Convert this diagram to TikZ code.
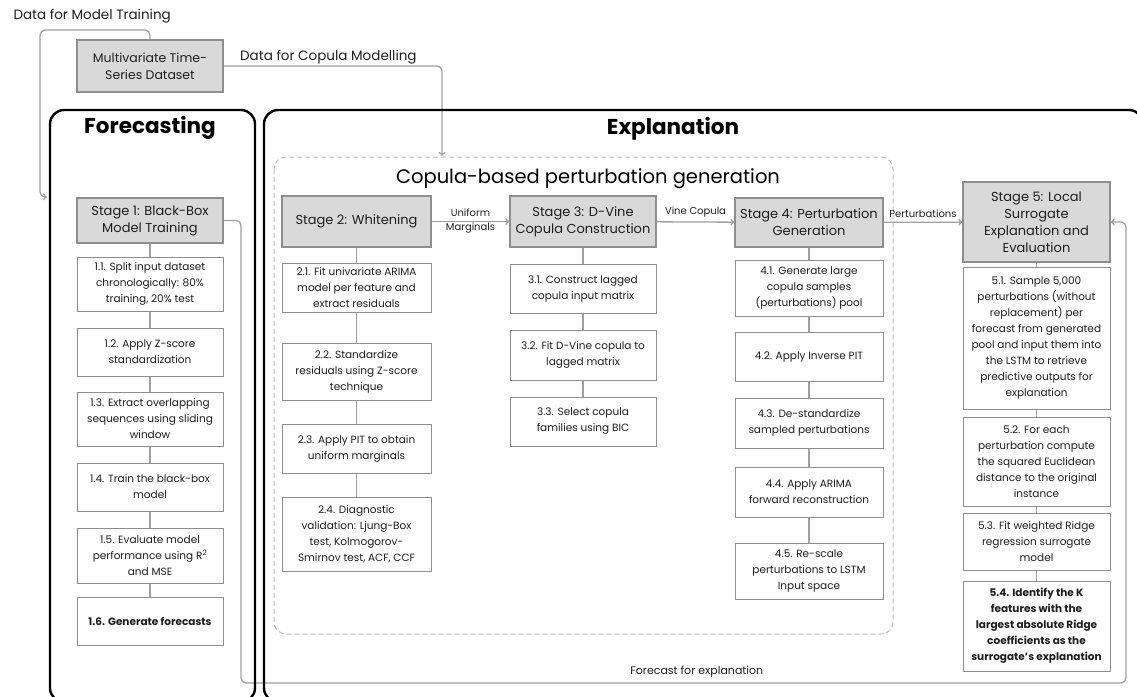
\documentclass[tikz,border=0pt]{standalone}
\usepackage{fontspec}
\setmainfont{Poppins}
\usetikzlibrary{arrows.meta}

\definecolor{stagegray}{HTML}{D9D9D9}
\definecolor{boxgray}{HTML}{8E8E8E}
\definecolor{linegray}{HTML}{A0A0A0}
\definecolor{dashgray}{HTML}{BDBDBD}
\definecolor{textgray}{HTML}{1E1E1E}

\pgfdeclarelayer{back}
\pgfdeclarelayer{mid}
\pgfsetlayers{back,mid,main}

\newcommand*{\bodyfont}{\fontsize{10.5}{16}\selectfont}
\newcommand*{\stagefont}{\fontsize{13}{17}\selectfont}

\begin{document}
\begin{tikzpicture}
[
	x=1pt, y=-1pt,
	stagebox/.style={draw=boxgray,line width=1.2pt,fill=stagegray,align=center,inner sep=1pt,minimum width=146pt,font=\stagefont,text=textgray},
	stepbox/.style={draw=boxgray,line width=1pt,fill=white,align=center,inner sep=1pt,minimum width=146pt,font=\bodyfont,text=textgray},
	boldbox/.style={stepbox,font=\bodyfont\bfseries},
	link/.style={draw=linegray,line width=1.3pt},
	flow/.style={link,-{To[length=4pt,width=7pt]},rounded corners=5pt},
	panel/.style={draw=black,line width=2.4pt,rounded corners=14pt},
	lbl/.style={font=\fontsize{10}{14}\selectfont,text=textgray},
	datalbl/.style={font=\fontsize{13.5}{16}\selectfont,text=textgray}
]

	\clip (0,0) rectangle (1137,696);

	% panels
	\begin{pgfonlayer}{mid}
	\draw[panel] (50,110) rectangle (255,702);
	\draw[panel] (264,110) rectangle (1143,702);
	\draw[draw=dashgray,line width=1pt,dash pattern=on 5pt off 3pt,rounded corners=12pt] (274,157) rectangle (893,634);
	\end{pgfonlayer}
	\node[font=\fontsize{21.5}{24}\selectfont\bfseries] (fctitle) at (150,128) {Forecasting};
	\node[font=\fontsize{21.5}{24}\selectfont\bfseries] (extitle) at (673,129) {Explanation};
	\node[font=\fontsize{19.5}{24}\selectfont] (cptitle) at (588,179) {Copula-based perturbation generation};

	% input data
	\node[stagebox,minimum height=52pt,font=\fontsize{12.5}{17}\selectfont] (data) at (150,66) {Multivariate Time-\\Series Dataset};
	\node[datalbl,anchor=west] (trainlbl) at (10,16) {Data for Model Training};
	\node[datalbl,anchor=south west,inner sep=2pt] (copulalbl) at (238,66) {Data for Copula Modelling};

	% stage 1
	\node[stagebox,minimum height=45pt] (s1) at (150,220.5) {Stage 1: Black-Box\\Model Training};
	\node[stepbox,minimum height=54pt] (s11) at (150,284) {1.1. Split input dataset\\chronologically: 80\%\\training, 20\% test};
	\node[stepbox,minimum height=48pt] (s12) at (150,352) {1.2. Apply Z-score\\standardization};
	\node[stepbox,minimum height=54pt] (s13) at (150,419) {1.3. Extract overlapping\\sequences using sliding\\window};
	\node[stepbox,minimum height=48pt] (s14) at (150,487) {1.4. Train the black-box\\model};
	\node[stepbox,minimum height=55pt] (s15) at (150,555.5) {1.5. Evaluate model\\performance using R\textsuperscript{2}\\and MSE};
	\node[boldbox,minimum height=48pt] (s16) at (150,621) {1.6. Generate forecasts};

	% stage 2
	\node[stagebox,minimum width=149pt,minimum height=51pt] (s2) at (356.5,221.5) {Stage 2: Whitening};
	\node[stepbox,minimum width=149pt,minimum height=49pt] (s21) at (356.5,287.5) {2.1. Fit univariate ARIMA\\model per feature and\\extract residuals};
	\node[stepbox,minimum width=149pt,minimum height=57pt] (s22) at (356.5,371.5) {2.2. Standardize\\residuals using Z-score\\technique};
	\node[stepbox,minimum width=149pt,minimum height=49pt] (s23) at (356.5,448.5) {2.3. Apply PIT to obtain\\uniform marginals};
	\node[stepbox,minimum width=149pt,minimum height=74pt] (s24) at (356.5,534) {2.4. Diagnostic\\validation: Ljung-Box\\test, Kolmogorov-\\Smirnov test, ACF, CCF};

	% stage 3
	\node[stagebox,minimum height=51pt] (s3) at (583,221.5) {Stage 3: D-Vine\\Copula Construction};
	\node[stepbox,minimum height=49pt] (s31) at (583,288.5) {3.1. Construct lagged\\copula input matrix};
	\node[stepbox,minimum height=50pt] (s32) at (583,355) {3.2. Fit D-Vine copula to\\lagged matrix};
	\node[stepbox,minimum height=49pt] (s33) at (583,421.5) {3.3. Select copula\\families using BIC};

	% stage 4
	\node[stagebox,minimum width=148pt,minimum height=49pt] (s4) at (809,222.5) {Stage 4: Perturbation\\Generation};
	\node[stepbox,minimum width=148pt,minimum height=56pt] (s41) at (809,288) {4.1. Generate large\\copula samples\\(perturbations) pool};
	\node[stepbox,minimum width=148pt,minimum height=49pt] (s42) at (809,356.5) {4.2. Apply Inverse PIT};
	\node[stepbox,minimum width=148pt,minimum height=50pt] (s43) at (809,423) {4.3. De-standardize\\sampled perturbations};
	\node[stepbox,minimum width=148pt,minimum height=50pt] (s44) at (809,492) {4.4. Apply ARIMA\\forward reconstruction};
	\node[stepbox,minimum width=148pt,minimum height=56pt] (s45) at (809,571) {4.5. Re-scale\\perturbations to LSTM\\Input space};

	% stage 5
	\node[stagebox,minimum width=147pt,minimum height=80pt] (s5) at (1036.5,222) {Stage 5: Local\\Surrogate\\Explanation and\\Evaluation};
	\node[stepbox,minimum width=147pt,minimum height=142pt] (s51) at (1036.5,338) {5.1. Sample 5,000\\perturbations (without\\replacement) per\\forecast from generated\\pool and input them into\\the LSTM to retrieve\\predictive outputs for\\explanation};
	\node[stepbox,minimum width=147pt,minimum height=89pt] (s52) at (1036.5,461.5) {5.2. For each\\perturbation compute\\the squared Euclidean\\distance to the original\\instance};
	\node[stepbox,minimum width=147pt,minimum height=57pt] (s53) at (1036.5,541.5) {5.3. Fit weighted Ridge\\regression surrogate\\model};
	\node[boldbox,minimum width=147pt,minimum height=90pt] (s54) at (1036.5,626) {5.4. Identify the K\\features with the\\largest absolute Ridge\\coefficients as the\\surrogate's explanation};

	% steps inside each stage
	\draw[link] (s1) -- (s11) (s11) -- (s12) (s12) -- (s13) (s13) -- (s14) (s14) -- (s15) (s15) -- (s16);
	\draw[link] (s2) -- (s21) (s21) -- (s22) (s22) -- (s23) (s23) -- (s24);
	\draw[link] (s3) -- (s31) (s31) -- (s32) (s32) -- (s33);
	\draw[link] (s4) -- (s41) (s41) -- (s42) (s42) -- (s43) (s43) -- (s44) (s44) -- (s45);
	\draw[link] (s5) -- (s51) (s51) -- (s52) (s52) -- (s53) (s53) -- (s54);

	% stage to stage
	\draw[flow] (s2) -- node[lbl,align=center] {Uniform\\Marginals} (s3);
	\draw[flow] (s3) -- node[lbl,above=1pt] {Vine Copula} (s4);
	\draw[flow] (s4) -- node[lbl,above=1pt] {Perturbations} (s5);

	% data feeds and forecast loop
	\coordinate (ta) at (40,30);
	\coordinate (tb) at (47,197);
	\coordinate (ca) at (442,156);
	\coordinate (fa) at (241,683);
	\coordinate (fb) at (1126,683);
	\begin{pgfonlayer}{back}
	\draw[flow] (data.north) |- (ta) |- (tb);
	\draw[flow] (data.east) -| (ca);
	\draw[flow] (s1.east) -| (fa) -- node[lbl,above=2pt,pos=0.515,font=\fontsize{11}{14}\selectfont] {Forecast for explanation} (fb) |- (s5.east);
	\end{pgfonlayer}

\end{tikzpicture}
\end{document}
